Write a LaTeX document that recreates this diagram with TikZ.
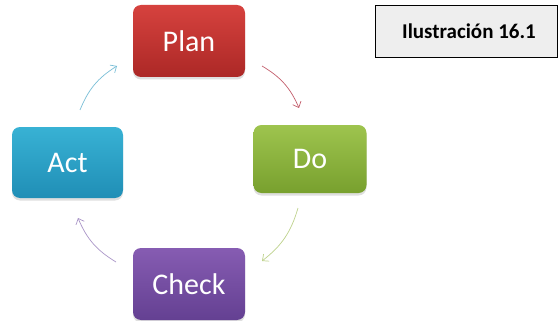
\documentclass[tikz,border=0pt]{standalone}
\usepackage{fontspec}
\setmainfont{Carlito}
\usetikzlibrary{arrows.meta,shadows}
\definecolor{planT}{RGB}{214,66,62}
\definecolor{planB}{RGB}{172,40,38}
\definecolor{doT}{RGB}{158,196,78}
\definecolor{doB}{RGB}{120,160,46}
\definecolor{actT}{RGB}{56,178,212}
\definecolor{actB}{RGB}{32,142,182}
\definecolor{chkT}{RGB}{134,92,178}
\definecolor{chkB}{RGB}{100,64,146}
\definecolor{labfill}{RGB}{238,238,238}
\definecolor{arrP}{RGB}{196,96,110}
\definecolor{arrD}{RGB}{190,210,140}
\definecolor{arrC}{RGB}{170,150,200}
\definecolor{arrA}{RGB}{120,190,215}
\tikzset{
  stage/.style={rounded corners=8pt, minimum width=112pt, minimum height=70pt,
    text=white, font=\fontsize{30}{32}\selectfont, inner sep=0pt,
    drop shadow={opacity=0.25, shadow xshift=0pt, shadow yshift=-2.5pt}},
  cyc/.style={line width=0.7pt, -{Straight Barb[length=5pt,width=9pt]}, bend left=18},
  labelbox/.style={draw=black, line width=0.8pt, fill=labfill, minimum width=182pt,
    minimum height=52pt, inner sep=0pt, font=\bfseries\fontsize{21}{23}\selectfont}
}
\begin{document}
\begin{tikzpicture}[x=1pt,y=1pt]
\useasboundingbox (0,0) rectangle (560,-321);
\fill[white] (0,0) rectangle (560,-321);
\node[stage, top color=planT, bottom color=planB, minimum width=112pt, minimum height=72pt] (plan) at (189,-41) {Plan};
\node[stage, top color=doT, bottom color=doB, minimum width=113pt, minimum height=68pt] (do) at (310,-159) {Do};
\node[stage, top color=actT, bottom color=actB, minimum width=111pt, minimum height=71pt] (act) at (67.5,-162.5) {Act};
\node[stage, top color=chkT, bottom color=chkB, minimum width=112pt, minimum height=72pt] (check) at (189,-284) {Check};
\node[labelbox] (lab) at (466,-31) {\hspace*{6pt}Ilustración 16.1};
\coordinate (p1) at (262,-66);
\coordinate (p2) at (299,-108);
\coordinate (d1) at (298,-208);
\coordinate (d2) at (262,-261);
\coordinate (c1) at (116,-262);
\coordinate (c2) at (78,-218);
\coordinate (a1) at (80,-110);
\coordinate (a2) at (117,-66);
\draw[cyc, arrP] (p1) to (p2);
\draw[cyc, arrD] (d1) to (d2);
\draw[cyc, arrC] (c1) to (c2);
\draw[cyc, arrA] (a1) to (a2);
\end{tikzpicture}
\end{document}
